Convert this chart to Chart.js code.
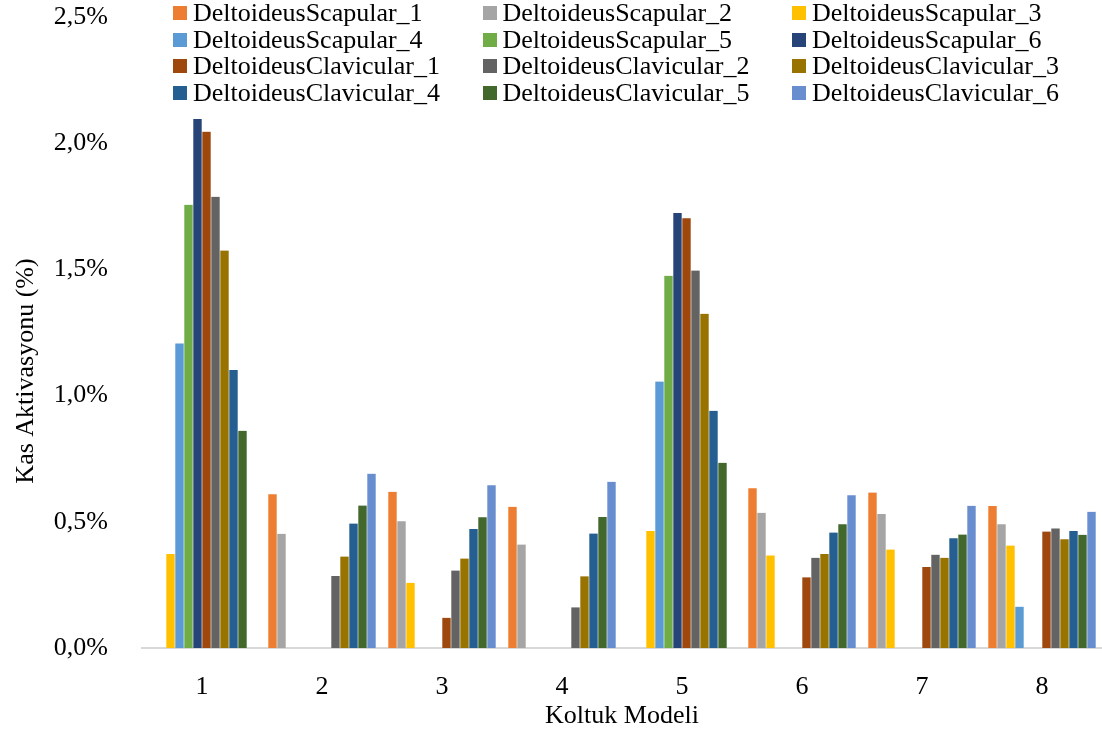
<!DOCTYPE html>
<html>
<head>
<meta charset="utf-8">
<script src="https://cdn.jsdelivr.net/npm/chart.js@4/dist/chart.umd.min.js"></script>
<style>
  body { margin: 0; background: #fff; }
  #wrap { position: relative; width: 1102px; height: 734px; }
  #legend {
    position: absolute; left: 173px; top: 0;
    display: grid;
    grid-template-columns: repeat(3, 309.5px);
    grid-auto-rows: 26.6px;
    font-family: 'Liberation Serif', 'Times New Roman', serif;
    font-size: 26px; color: #000;
  }
  #legend .item { display: flex; align-items: center; white-space: nowrap; line-height: 26.6px; }
  #legend .box { width: 14px; height: 14px; margin-right: 6px; flex: none; }
</style>
</head>
<body>
<div id="wrap">
  <canvas id="chartCanvas" width="1102" height="734"></canvas>
  <div id="legend"></div>
</div>
<script>
// categorias (modelos de koltuk)
const categories = ['1', '2', '3', '4', '5', '6', '7', '8'];

const seriesNames = [
  'DeltoideusScapular_1', 'DeltoideusScapular_2', 'DeltoideusScapular_3',
  'DeltoideusScapular_4', 'DeltoideusScapular_5', 'DeltoideusScapular_6',
  'DeltoideusClavicular_1', 'DeltoideusClavicular_2', 'DeltoideusClavicular_3',
  'DeltoideusClavicular_4', 'DeltoideusClavicular_5', 'DeltoideusClavicular_6'
];

const seriesColors = [
  '#ED7D31', '#A5A5A5', '#FFC000', '#5B9BD5', '#70AD47', '#264478',
  '#9E480E', '#636363', '#997300', '#255E91', '#43682B', '#698ED0'
];

// valores en %
const scapular1 = [0, 0.610, 0.620, 0.561, 0, 0.634, 0.617, 0.564];
const scapular2 = [0, 0.454, 0.503, 0.411, 0, 0.537, 0.532, 0.491];
const scapular3 = [0.374, 0, 0.260, 0, 0.465, 0.368, 0.391, 0.407];
const scapular4 = [1.208, 0, 0, 0, 1.057, 0, 0, 0.165];
const scapular5 = [1.757, 0, 0, 0, 1.476, 0, 0, 0];
const scapular6 = [2.097, 0, 0, 0, 1.725, 0, 0, 0];
const clavicular1 = [2.047, 0, 0.121, 0, 1.704, 0.281, 0.322, 0.463];
const clavicular2 = [1.789, 0.286, 0.308, 0.162, 1.497, 0.359, 0.371, 0.475];
const clavicular3 = [1.576, 0.364, 0.356, 0.285, 1.325, 0.374, 0.359, 0.432];
const clavicular4 = [1.103, 0.494, 0.473, 0.455, 0.941, 0.459, 0.436, 0.465];
const clavicular5 = [0.862, 0.566, 0.519, 0.520, 0.735, 0.491, 0.451, 0.450];
const clavicular6 = [0, 0.692, 0.646, 0.660, 0, 0.606, 0.565, 0.541];

const seriesValues = [
  scapular1, scapular2, scapular3, scapular4, scapular5, scapular6,
  clavicular1, clavicular2, clavicular3, clavicular4, clavicular5, clavicular6
];

const yTicks = [0, 0.5, 1.0, 1.5, 2.0, 2.5];
const xTitle = 'Koltuk Modeli';
const yTitle = 'Kas Aktivasyonu (%)';

const FONT = "'Liberation Serif', 'Times New Roman', serif";
Chart.defaults.font.family = FONT;
Chart.defaults.font.size = 26;
Chart.defaults.color = '#000';

const datasets = seriesNames.map((name, i) => ({
  label: name,
  data: seriesValues[i],
  backgroundColor: seriesColors[i],
  borderColor: 'rgba(255,255,255,0.7)',
  borderWidth: 0.3,
  categoryPercentage: 0.9,
  barPercentage: 1.0
}));

// legend en html, 3 columnas
const legendEl = document.getElementById('legend');
seriesNames.forEach((name, i) => {
  const item = document.createElement('div');
  item.className = 'item';
  const box = document.createElement('span');
  box.className = 'box';
  box.style.background = seriesColors[i];
  const txt = document.createElement('span');
  txt.textContent = name;
  item.appendChild(box);
  item.appendChild(txt);
  legendEl.appendChild(item);
});

// titulo del eje Y (centrado como en el original)
const yTitlePlugin = {
  id: 'yTitle',
  afterDraw(chart) {
    const ctx = chart.ctx;
    ctx.save();
    ctx.font = '26px ' + FONT;
    ctx.fillStyle = '#000';
    ctx.translate(26, 371);
    ctx.rotate(-Math.PI / 2);
    ctx.textAlign = 'center';
    ctx.textBaseline = 'middle';
    ctx.fillText(yTitle, 0, 0);
    ctx.restore();
  }
};

const ctx = document.getElementById('chartCanvas').getContext('2d');
new Chart(ctx, {
  type: 'bar',
  data: { labels: categories, datasets: datasets },
  options: {
    responsive: false,
    animation: false,
    layout: { padding: { top: 17, right: 0, bottom: 0, left: 0 } },
    plugins: {
      legend: { display: false },
      tooltip: { enabled: false }
    },
    scales: {
      x: {
        grid: { display: false },
        border: { display: true, color: '#D9D9D9', width: 2 },
        ticks: { padding: 16, color: '#000' },
        title: { display: true, text: xTitle, padding: { top: 0, bottom: 2 } },
        afterFit: (scale) => {
          scale.height = 86;
          scale.paddingLeft = 0;
          scale.paddingRight = 0;
        }
      },
      y: {
        min: 0,
        max: 2.5,
        grid: { display: false },
        border: { display: false },
        afterBuildTicks: (scale) => { scale.ticks = yTicks.map(v => ({ value: v })); },
        ticks: {
          padding: 26,
          color: '#000',
          callback: (v) => v.toFixed(1).replace('.', ',') + '%'
        },
        afterFit: (scale) => {
          scale.width = 142;
          scale.paddingTop = 0;
          scale.paddingBottom = 0;
        }
      }
    }
  },
  plugins: [yTitlePlugin]
});
</script>
</body>
</html>
